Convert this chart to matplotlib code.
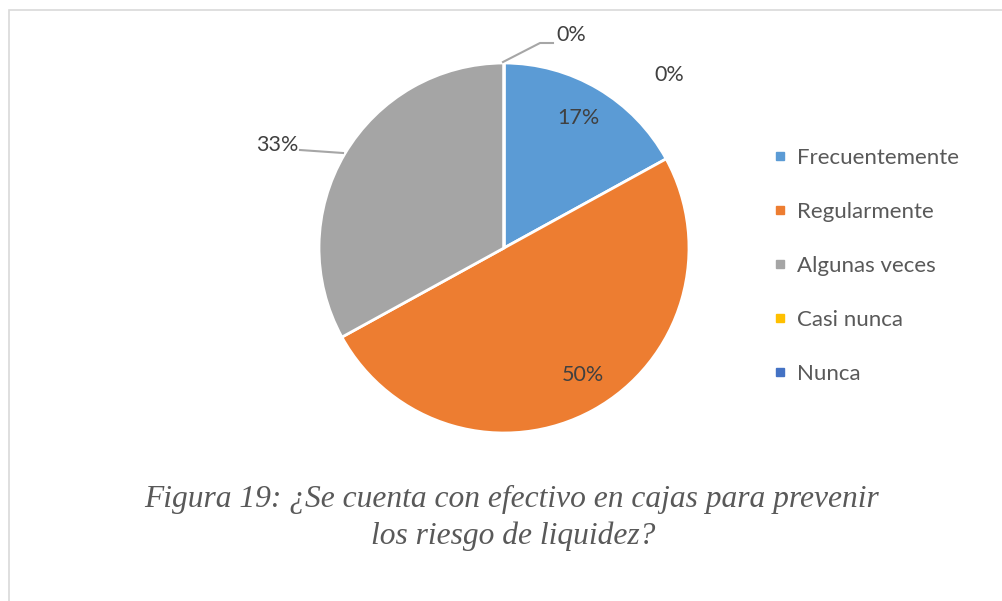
import matplotlib
matplotlib.use("Agg")
import matplotlib.pyplot as plt
from matplotlib.lines import Line2D
from matplotlib.patches import Rectangle
import numpy as np

categories = ["Frecuentemente", "Regularmente", "Algunas veces", "Casi nunca", "Nunca"]
values = [17, 50, 33, 0, 0]
colors = ["#5B9BD5", "#ED7D31", "#A5A5A5", "#FFC000", "#4472C4"]
caption_lines = ["Figura 19: ¿Se cuenta con efectivo en cajas para prevenir",
                 "los riesgo de liquidez?"]

W, H = 1003, 601
fig = plt.figure(figsize=(W / 100, H / 100), dpi=100)
fig.patch.set_facecolor("white")

# outer border
fig.add_artist(Rectangle((9.5 / W, -0.1), 1.2, 1 - 9.5 / H + 0.1, transform=fig.transFigure,
                         fill=False, edgecolor="#D9D9D9", linewidth=1.2))

cx, cy, r = 504, 248, 185
ax = fig.add_axes([(cx - r) / W, (H - cy - r) / H, 2 * r / W, 2 * r / H])
wedges, _ = ax.pie(values, colors=colors, startangle=90, counterclock=False,
                   radius=1, wedgeprops=dict(edgecolor="white", linewidth=2))
ax.set_xlim(-1, 1)
ax.set_ylim(-1, 1)
ax.set_aspect("equal")
ax.axis("off")

font = "Lato"
lab_color = "#404040"
fs = 15.5

def pos(px, py):
    return ((px - cx) / r, (cy - py) / r)

labels = [f"{v:.0f}%" for v in values]
kw = dict(ha="center", va="center", fontsize=fs, color=lab_color, family=font, clip_on=False)
ax.text(*pos(578, 118), labels[0], **kw)
ax.text(*pos(583, 375), labels[1], **kw)
ax.text(*pos(277, 145), labels[2], **kw)
ax.plot(*zip(pos(300, 150), pos(343, 153)), color="#A6A6A6", lw=1.5, clip_on=False)
ax.text(*pos(571, 35), labels[3], **kw)
ax.plot(*zip(pos(503, 62), pos(540, 43), pos(553, 43)), color="#A6A6A6", lw=1.5, clip_on=False)
ax.text(*pos(669, 75), labels[4], **kw)

# legend
handles = [Line2D([], [], marker="s", linestyle="none", markersize=6, markerfacecolor=c,
                  markeredgecolor=c) for c in colors]
leg = fig.legend(handles, categories, loc="upper left", bbox_to_anchor=(773 / W, 1 - 148 / H),
                 frameon=False, prop=dict(family=font, size=16), labelcolor="#595959",
                 handlelength=0.6, handletextpad=0.5, labelspacing=1.53, borderpad=0,
                 borderaxespad=0)

cap_kw = dict(ha="center", va="center", fontsize=22.7, family="Liberation Serif",
              style="italic", color="#595959")
fig.text(512 / W, 1 - 499 / H, caption_lines[0], **cap_kw)
fig.text(513 / W, 1 - 536 / H, caption_lines[1], **cap_kw)

fig.savefig("out.png", dpi=100, facecolor="white")
